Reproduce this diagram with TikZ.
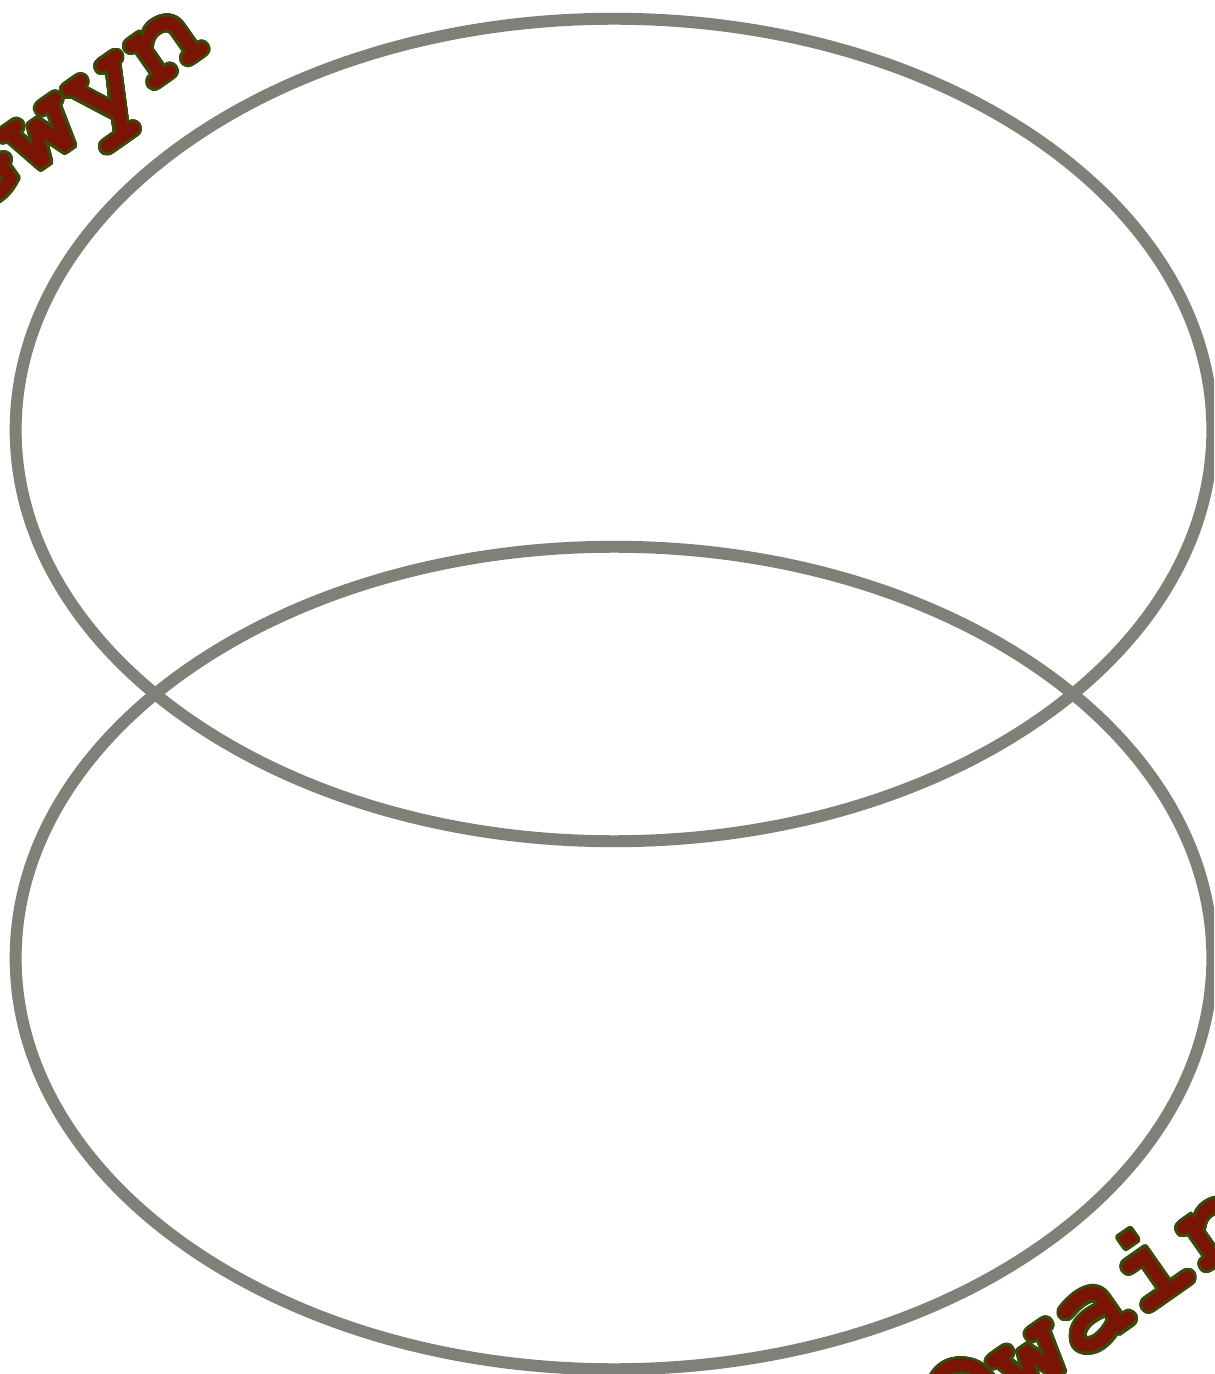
\documentclass[tikz,border=0pt]{standalone}
\usepackage[T1]{fontenc}
\usepackage{contour}
\contourlength{0.8pt}
\contournumber{32}
\usetikzlibrary{shapes.geometric}
\definecolor{ringgray}{RGB}{128,128,120}
\definecolor{lblred}{RGB}{122,21,5}
\definecolor{lblgreen}{RGB}{58,74,10}
\newcommand{\courb}{\fontfamily{pcr}\fontseries{b}\fontsize{36}{42}\selectfont}
\begin{document}
\begin{tikzpicture}[x=0.01cm,y=-0.01cm,
  ring/.style={draw=ringgray, line width=3.4pt, ellipse, inner sep=0pt,
    minimum width=11.96cm, minimum height=8.22cm},
  lbl/.style={font=\courb, text=lblred,
    rotate=35, anchor=base, inner sep=0pt}]
\useasboundingbox (0,0) rectangle (1214,1374);
\clip (0,0) rectangle (1214,1374);
\node[ring] (top) at (614,430) {};
\node[ring] (bot) at (614,958) {};
\node[lbl] (gwyn) at (89,136) {\contour{lblgreen}{Gwyn}};
\node[lbl] (owain) at (1110,1340) {\contour{lblgreen}{Owain}};
\end{tikzpicture}
\end{document}
